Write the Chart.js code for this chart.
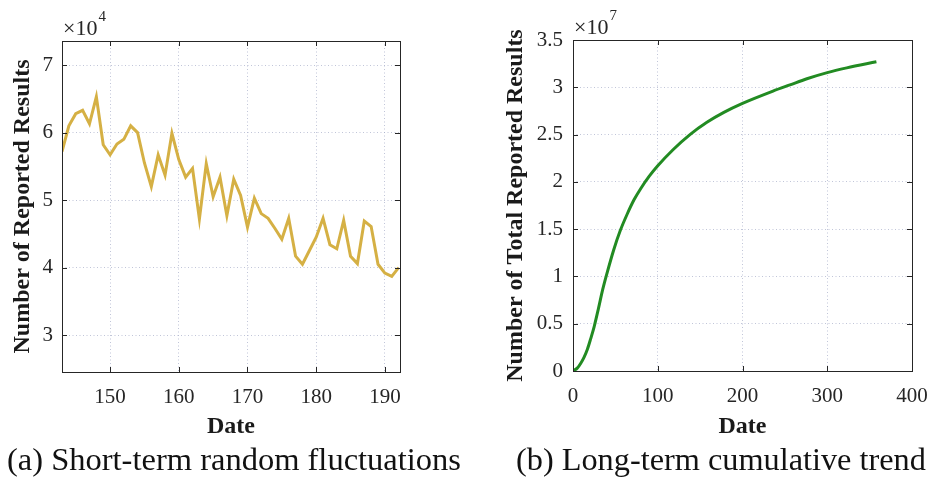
<!DOCTYPE html>
<html>
<head>
<meta charset="utf-8">
<script src="https://cdn.jsdelivr.net/npm/chart.js@4.4.1/dist/chart.umd.min.js"></script>
<style>
  html, body { margin: 0; padding: 0; background: #fff; overflow: hidden; }
  body { width: 928px; height: 479px; position: relative; font-family: "Liberation Serif", serif; }
  canvas { position: absolute; top: 0; }
  #shortChart { left: 0; }
  #longChart { left: 480px; }
  .caption { position: absolute; top: 443px; font-size: 32.5px; line-height: 32px; color: #111; white-space: nowrap; }
</style>
</head>
<body>
<canvas id="shortChart" width="440" height="442"></canvas>
<canvas id="longChart" width="448" height="442"></canvas>
<div class="caption" style="left:7px">(a) Short-term random fluctuations</div>
<div class="caption" style="left:516px; font-size:32.3px">(b) Long-term cumulative trend</div>
<script>
// (a) daily reported results, days 143-192
var days = [143, 144, 145, 146, 147, 148, 149, 150, 151, 152, 153, 154, 155, 156, 157, 158, 159, 160, 161, 162,
            163, 164, 165, 166, 167, 168, 169, 170, 171, 172, 173, 174, 175, 176, 177, 178, 179, 180, 181, 182,
            183, 184, 185, 186, 187, 188, 189, 190, 191, 192];
var dailyReported = [57200, 61000, 62800, 63300, 61300, 65300, 58200, 56700, 58300, 59000,
                     61000, 60000, 55500, 52000, 56700, 53700, 59900, 56000, 53400, 54700,
                     47200, 55400, 50500, 53400, 47700, 53100, 50700, 46000, 50300, 48000,
                     47300, 45800, 44200, 47300, 41700, 40500, 42500, 44500, 47300, 43400,
                     42800, 47000, 41700, 40600, 46900, 46100, 40500, 39200, 38700, 40000];
var shortXTicks = [150, 160, 170, 180, 190];
var shortYTicks = [30000, 40000, 50000, 60000, 70000];

// (b) cumulative reported results
var cumDays = [0, 5, 9, 13, 17, 21, 25, 30, 35, 40, 48, 56, 64, 72, 80, 90, 100, 118, 138, 158,
               178, 200, 236, 256, 276, 300, 323, 358];
var totalReported = [0, 300000, 800000, 1450000, 2300000, 3450000, 4700000, 6600000, 8600000, 10300000,
                     12800000, 14900000, 16600000, 18100000, 19300000, 20600000, 21700000, 23400000, 25000000, 26300000,
                     27350000, 28300000, 29600000, 30250000, 30900000, 31550000, 32050000, 32700000];
var longXTicks = [0, 100, 200, 300, 400];
var longYTicks = [0, 5000000, 10000000, 15000000, 20000000, 25000000, 30000000, 35000000];

var axisColor = '#262626';
var gridColor = 'rgba(165,172,200,0.7)';
var tickFont = { family: 'Liberation Serif', size: 21 };
var titleFont = { family: 'Liberation Serif', size: 24, weight: 'bold' };

// matlab-like box, inner ticks and exponent label
function boxPlugin(expo) {
    return {
        id: 'box',
        afterDraw: function (chart) {
            var ctx = chart.ctx, a = chart.chartArea;
            var xs = chart.scales.x, ys = chart.scales.y;
            ctx.save();
            ctx.strokeStyle = axisColor;
            ctx.lineWidth = 1;
            ctx.beginPath();
            xs.ticks.forEach(function (t) {
                var px = Math.round(xs.getPixelForValue(t.value)) + 0.5;
                ctx.moveTo(px, a.bottom); ctx.lineTo(px, a.bottom - 5);
                ctx.moveTo(px, a.top); ctx.lineTo(px, a.top + 5);
            });
            ys.ticks.forEach(function (t) {
                var py = Math.round(ys.getPixelForValue(t.value)) + 0.5;
                ctx.moveTo(a.left, py); ctx.lineTo(a.left + 5, py);
                ctx.moveTo(a.right, py); ctx.lineTo(a.right - 5, py);
            });
            ctx.stroke();
            ctx.strokeRect(Math.round(a.left) + 0.5, Math.round(a.top) + 0.5,
                           Math.round(a.right - a.left), Math.round(a.bottom - a.top));
            ctx.fillStyle = axisColor;
            ctx.textBaseline = 'alphabetic';
            ctx.font = '22px "Liberation Serif"';
            ctx.fillText('\u00d710', a.left + 1, a.top - 6);
            var w = ctx.measureText('\u00d710').width;
            ctx.font = '15px "Liberation Serif"';
            ctx.fillText(expo, a.left + 1 + w + 1, a.top - 20);
            ctx.restore();
        }
    };
}

function makeScales(o) {
    return {
        x: {
            type: 'linear',
            min: o.xMin, max: o.xMax,
            afterBuildTicks: function (s) { s.ticks = o.xTicks.map(function (v) { return { value: v }; }); },
            afterFit: function (s) { s.height = o.xHeight; s.paddingLeft = 0; s.paddingRight = 0; },
            grid: { color: gridColor, drawTicks: false },
            border: { display: false, dash: [1, 2.5] },
            ticks: { color: axisColor, font: tickFont, padding: 13, maxRotation: 0,
                     callback: function (v) { return String(v); } },
            title: { display: true, text: 'Date', color: '#1a1a1a', font: titleFont, padding: { top: 0, bottom: 1 } }
        },
        y: {
            min: o.yMin, max: o.yMax,
            afterBuildTicks: function (s) { s.ticks = o.yTicks.map(function (v) { return { value: v }; }); },
            afterFit: function (s) { s.width = o.yWidth; s.paddingTop = 0; s.paddingBottom = 0; },
            grid: { color: gridColor, drawTicks: false },
            border: { display: false, dash: [1, 2.5] },
            ticks: { color: axisColor, font: tickFont, padding: o.yPad,
                     callback: function (v) { return String(+(v / o.factor).toFixed(2)); } },
            title: { display: true, text: o.yTitle, color: '#1a1a1a', font: titleFont,
                     padding: { top: o.yTitlePad, bottom: 0 } }
        }
    };
}

new Chart(document.getElementById('shortChart'), {
    type: 'line',
    data: {
        datasets: [{
            data: days.map(function (d, i) { return { x: d, y: dailyReported[i] }; }),
            borderColor: '#D5B044',
            borderWidth: 3,
            pointRadius: 0,
            tension: 0
        }]
    },
    options: {
        responsive: false,
        animation: false,
        layout: { padding: { top: 41, right: 40, left: 0, bottom: 0 } },
        plugins: { legend: { display: false }, tooltip: { enabled: false } },
        scales: makeScales({
            xMin: 143, xMax: 192.2, xTicks: shortXTicks, xHeight: 70,
            yMin: 24550, yMax: 73560, yTicks: shortYTicks, yWidth: 62, yPad: 9,
            factor: 10000, yTitle: 'Number of Reported Results', yTitlePad: 8
        })
    },
    plugins: [boxPlugin('4')]
});

new Chart(document.getElementById('longChart'), {
    type: 'line',
    data: {
        datasets: [{
            data: cumDays.map(function (d, i) { return { x: d, y: totalReported[i] }; }),
            borderColor: '#228B22',
            borderWidth: 3,
            pointRadius: 0,
            cubicInterpolationMode: 'monotone'
        }]
    },
    options: {
        responsive: false,
        animation: false,
        layout: { padding: { top: 40, right: 16, left: 0, bottom: 0 } },
        plugins: { legend: { display: false }, tooltip: { enabled: false } },
        scales: makeScales({
            xMin: 0, xMax: 400, xTicks: longXTicks, xHeight: 71,
            yMin: 0, yMax: 35000000, yTicks: longYTicks, yWidth: 93, yPad: 10,
            factor: 10000000, yTitle: 'Number of Total Reported Results', yTitlePad: 21
        })
    },
    plugins: [boxPlugin('7')]
});
</script>
</body>
</html>
